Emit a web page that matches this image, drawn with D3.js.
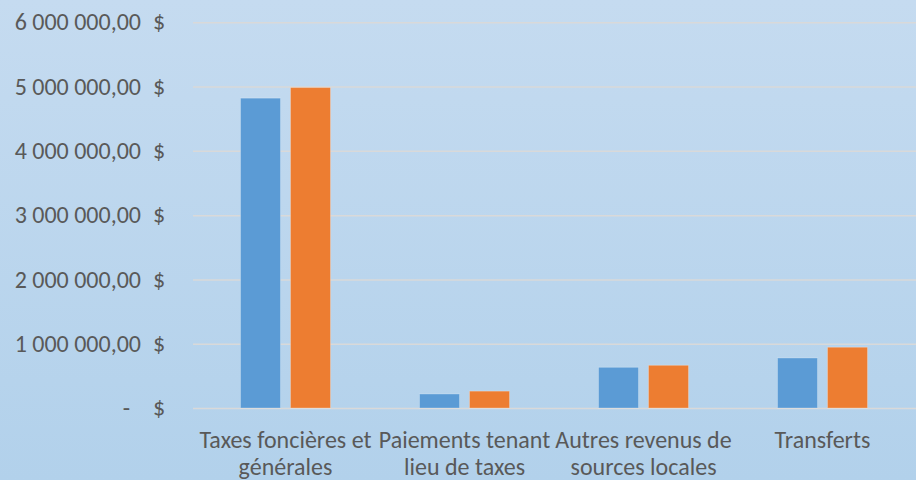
<html>

<head>
    <script src="https://d3js.org/d3.v7.min.js"></script>
    <style>
        body {
            margin: 0;
        }

        text {
            font-family: Carlito, Calibri, "Liberation Sans", sans-serif;
            fill: #595959;
        }

        .gridlines line {
            stroke: #d9d9d9;
            stroke-width: 1.5;
        }

        .gridlines .domain {
            display: none;
        }
    </style>
</head>

<body>
    <svg height="480" width="916" id="chartSvg"></svg>
    <script>
        // data
        const categories = ["Taxes foncières et générales", "Paiements tenant lieu de taxes",
            "Autres revenus de sources locales", "Transferts"];
        const categoryLines = [["Taxes foncières et", "générales"], ["Paiements tenant", "lieu de taxes"],
            ["Autres revenus de", "sources locales"], ["Transferts"]];
        const seriesNames = ["Série 1", "Série 2"];
        const series1 = [4820000, 218000, 633000, 778000];
        const series2 = [4985000, 262000, 664000, 945000];
        const yTicks = [0, 1000000, 2000000, 3000000, 4000000, 5000000, 6000000];
        const colors = ["#5b9bd5", "#ed7d31"];

        const svg = d3.select("#chartSvg");
        const width = +svg.attr("width");
        const height = +svg.attr("height");
        const margins = { top: 22.3, right: 4, bottom: 72, left: 196 };
        const fontSize = "24px";

        // background gradient
        const defs = svg.append("defs");
        const grad = defs.append("linearGradient")
            .attr("id", "bg")
            .attr("x1", 0).attr("y1", 0).attr("x2", 0).attr("y2", 1);
        grad.append("stop").attr("offset", "0%").attr("stop-color", "#c5dbf0");
        grad.append("stop").attr("offset", "100%").attr("stop-color", "#b2d1eb");
        svg.append("rect")
            .attr("width", width)
            .attr("height", height)
            .attr("fill", "url(#bg)");

        const rows = categories.map((c, i) => ({ cat: c, lines: categoryLines[i], values: [series1[i], series2[i]] }));

        const yScale = d3.scaleLinear().domain([0, 6000000])
            .range([height - margins.bottom, margins.top]);

        const xScale = d3.scaleBand().domain(categories)
            .range([margins.left, width - margins.right]);

        const groupPad = (xScale.bandwidth() - 90) / 2;
        const xInner = d3.scaleBand().domain(seriesNames)
            .range([groupPad, groupPad + 90])
            .paddingInner(0.2);

        // gridlines
        const gridAxis = d3.axisLeft(yScale).tickValues(yTicks).tickFormat("")
            .tickSize(-(width - 193));
        svg.append("g")
            .attr("class", "gridlines")
            .attr("transform", "translate(193,0)")
            .call(gridAxis);

        // y axis labels
        const fr = d3.formatLocale({ decimal: ",", thousands: " ", grouping: [3], currency: ["", " $"] });
        const fmt = fr.format(",.2f");
        const leftAxis = d3.axisLeft(yScale).tickValues(yTicks)
            .tickFormat(d => d === 0 ? "-" : fmt(d))
            .tickSize(0).tickPadding(0);
        const yAxisG = svg.append("g")
            .attr("transform", "translate(141,0)")
            .call(leftAxis);
        yAxisG.select(".domain").remove();
        yAxisG.selectAll(".tick text")
            .style("font-size", fontSize)
            .attr("fill", "#595959")
            .attr("x", d => d === 0 ? -11 : 0);
        yAxisG.selectAll(".tick").append("text")
            .attr("x", 12)
            .attr("dy", "0.32em")
            .attr("text-anchor", "start")
            .style("font-size", fontSize)
            .attr("fill", "#595959")
            .text("$");

        // bars
        const groups = svg.append("g").selectAll("g").data(rows)
            .join("g")
            .attr("transform", d => `translate(${xScale(d.cat)},0)`);

        groups.selectAll("rect")
            .data(d => d.values.map((v, j) => ({ key: seriesNames[j], value: v, color: colors[j] })))
            .join("rect")
            .attr("x", d => xInner(d.key))
            .attr("width", xInner.bandwidth())
            .attr("y", d => yScale(d.value))
            .attr("height", d => yScale(0) - yScale(d.value))
            .attr("fill", d => d.color)
            .attr("stroke", "#ffffff")
            .attr("stroke-opacity", 0.25)
            .attr("stroke-width", 1);

        // category labels
        const bottomAxis = d3.axisBottom(xScale).tickSize(0).tickFormat("");
        const xAxisG = svg.append("g")
            .attr("transform", `translate(0,${yScale(0)})`)
            .call(bottomAxis);
        xAxisG.select(".domain").remove();
        xAxisG.selectAll(".tick").append("text")
            .attr("text-anchor", "middle")
            .style("font-size", fontSize)
            .attr("fill", "#595959")
            .selectAll("tspan")
            .data(d => rows.find(r => r.cat === d).lines)
            .join("tspan")
            .attr("x", 0)
            .attr("y", (d, i) => 40 + i * 26.5)
            .text(d => d);
    </script>
</body>

</html>
